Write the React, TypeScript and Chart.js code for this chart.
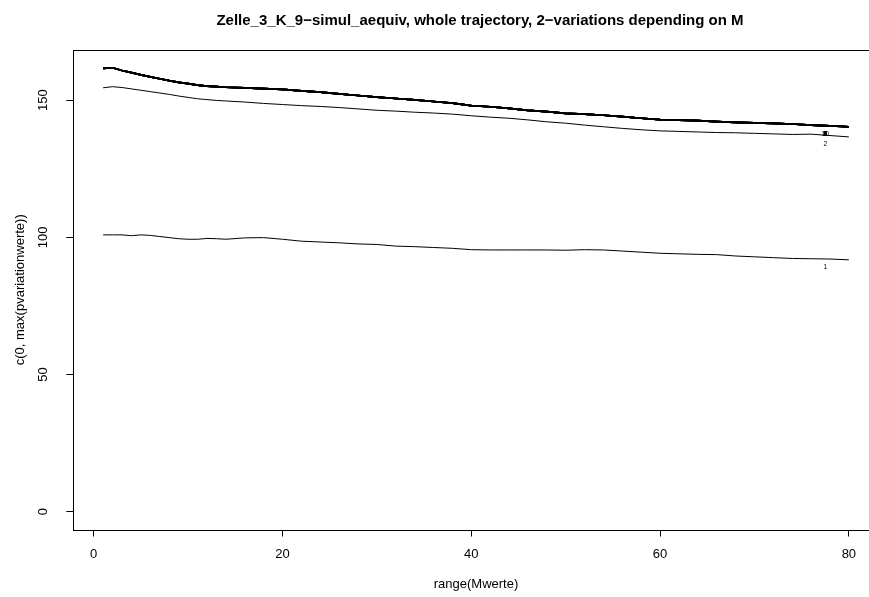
import React, { useEffect, useRef } from "react";
import { Chart, registerables } from "chart.js";

Chart.register(...registerables);

// ---- data ----
const Mwerte = [1, 2, 3, 4, 5, 6, 7, 8, 9, 10, 11, 12, 13, 14, 16, 18, 20, 22, 24, 26, 28, 30, 32, 34, 36, 38, 40, 42, 44, 46, 48, 50, 52, 54, 56, 58, 60, 62, 64, 66, 68, 70, 72, 74, 76, 78, 80];

const variation1 = [100.9, 100.9, 100.9, 100.6, 100.9, 100.7, 100.3, 99.9, 99.5, 99.3, 99.3, 99.6, 99.5, 99.3, 99.8, 99.9, 99.3, 98.6, 98.3, 98.0, 97.6, 97.4, 96.8, 96.6, 96.3, 96.0, 95.5, 95.4, 95.4, 95.4, 95.4, 95.3, 95.5, 95.4, 95.0, 94.6, 94.2, 94.0, 93.8, 93.7, 93.2, 92.9, 92.6, 92.3, 92.2, 92.1, 91.8];

const variation2 = [154.5, 154.9, 154.6, 154.1, 153.6, 153.1, 152.6, 152.1, 151.5, 151.0, 150.5, 150.2, 149.9, 149.7, 149.3, 148.8, 148.4, 148.0, 147.7, 147.3, 146.8, 146.3, 146.0, 145.6, 145.3, 144.9, 144.3, 143.8, 143.4, 142.8, 142.1, 141.6, 140.9, 140.3, 139.7, 139.2, 138.8, 138.6, 138.4, 138.2, 138.1, 137.9, 137.7, 137.5, 137.6, 137.1, 136.6];

// variations 3..10 lie on top of each other in the picture
const variations3to10 = [161.6, 161.8, 160.8, 160.0, 159.2, 158.5, 157.8, 157.1, 156.5, 156.0, 155.5, 155.1, 154.9, 154.7, 154.5, 154.2, 153.9, 153.4, 152.9, 152.3, 151.7, 151.1, 150.6, 150.1, 149.5, 148.9, 148.0, 147.6, 147.0, 146.3, 145.8, 145.2, 144.9, 144.5, 144.0, 143.4, 142.9, 142.7, 142.5, 142.2, 141.9, 141.7, 141.5, 141.3, 140.9, 140.6, 140.3];

const seriesLabels = ["1", "2", "3", "4", "5", "6", "7", "8", "9", "10"];
const xTicks = [0, 20, 40, 60, 80];
const yTicks = [0, 50, 100, 150];

const TITLE = "Zelle_3_K_9\u2212simul_aequiv, whole trajectory, 2\u2212variations depending on M";
const X_TITLE = "range(Mwerte)";
const Y_TITLE = "c(0, max(pvariationwerte))";

const LABEL_X = 77.5;
const LABEL_AT_M = 78;
const LABEL_DROP = 3;

const FONT = '"Liberation Sans", Arial, Helvetica, sans-serif';

function seriesFor(i: number): number[] {
  if (i === 0) return variation1;
  if (i === 1) return variation2;
  return variations3to10;
}

export default function App() {
  const ref = useRef<HTMLCanvasElement | null>(null);

  useEffect(() => {
    if (!ref.current) return;

    const datasets = seriesLabels.map((lab, i) => {
      const vals = seriesFor(i);
      return {
        label: lab,
        data: Mwerte.map((m, k) => ({ x: m, y: vals[k] })),
        borderColor: "#000",
        borderWidth: i < 2 ? 1 : 1.7,
        pointRadius: 0,
        tension: 0,
        fill: false,
      };
    });

    const allVals = [...variation1, ...variation2, ...variations3to10];
    const yMaxData = Math.max(...allVals);
    const xMinData = Math.min(...Mwerte);
    const xMaxData = Math.max(...Mwerte);
    const xr = xMaxData - xMinData;

    const rStyle = {
      id: "rStyle",
      afterDraw(chart: any) {
        const { ctx, chartArea: a, scales } = chart;
        const x = scales.x;
        const y = scales.y;
        ctx.save();
        // box
        ctx.strokeStyle = "#000";
        ctx.lineWidth = 1;
        ctx.strokeRect(Math.round(a.left) + 0.5, Math.round(a.top) + 0.5, Math.round(a.right - a.left), Math.round(a.bottom - a.top));

        ctx.fillStyle = "#000";
        // y tick labels (rotated, R style)
        ctx.font = `13px ${FONT}`;
        ctx.textAlign = "center";
        ctx.textBaseline = "alphabetic";
        y.ticks.forEach((t: any) => {
          const py = y.getPixelForValue(t.value);
          ctx.save();
          ctx.translate(46.5, py);
          ctx.rotate(-Math.PI / 2);
          ctx.fillText(String(t.value), 0, 0);
          ctx.restore();
        });

        // axis titles
        const cx = (a.left + a.right) / 2;
        const cy = (a.top + a.bottom) / 2;
        ctx.fillText(X_TITLE, cx, 588);
        ctx.save();
        ctx.translate(23.5, cy);
        ctx.rotate(-Math.PI / 2);
        ctx.fillText(Y_TITLE, 0, 0);
        ctx.restore();

        // main title
        ctx.font = `bold 15px ${FONT}`;
        ctx.fillText(TITLE, cx + 4, 25);

        // line end labels
        ctx.font = `6.7px ${FONT}`;
        ctx.textBaseline = "middle";
        const k = Mwerte.indexOf(LABEL_AT_M);
        seriesLabels.forEach((lab, i) => {
          const v = seriesFor(i)[k] - LABEL_DROP;
          ctx.fillText(lab, x.getPixelForValue(LABEL_X), y.getPixelForValue(v));
        });
        ctx.restore();
      },
    };

    const chart = new Chart(ref.current, {
      type: "line",
      data: { datasets },
      options: {
        animation: false,
        responsive: false,
        devicePixelRatio: 1,
        layout: { padding: { top: 50, right: 21.3, left: 0, bottom: 0 } },
        plugins: { legend: { display: false }, tooltip: { enabled: false }, title: { display: false } },
        scales: {
          x: {
            type: "linear",
            min: xMinData - 0.04 * xr,
            max: xMaxData + 0.04 * xr,
            afterBuildTicks: (s: any) => {
              s.ticks = xTicks.map((v) => ({ value: v }));
            },
            afterFit: (s: any) => {
              s.height = 67.5;
            },
            grid: { display: true, drawOnChartArea: false, drawTicks: true, tickLength: 7, color: "#000", lineWidth: 1 },
            border: { display: false },
            ticks: {
              color: "#000",
              font: { family: FONT, size: 13 },
              padding: 10,
              maxRotation: 0,
              minRotation: 0,
              callback: (v: any) => String(v),
            },
          },
          y: {
            type: "linear",
            min: 0 - 0.04 * yMaxData,
            max: yMaxData * 1.04,
            afterBuildTicks: (s: any) => {
              s.ticks = yTicks.map((v) => ({ value: v }));
            },
            afterFit: (s: any) => {
              s.width = 73.3;
            },
            grid: { display: true, drawOnChartArea: false, drawTicks: true, tickLength: 7, color: "#000", lineWidth: 1 },
            border: { display: false },
            ticks: { display: false },
          },
        },
      },
      plugins: [rStyle],
    });

    return () => chart.destroy();
  }, []);

  return (
    <div style={{ position: "fixed", left: 0, top: 0, width: 869, height: 597, overflow: "hidden", background: "#fff" }}>
      <canvas ref={ref} width={900} height={597} style={{ display: "block" }} />
    </div>
  );
}
